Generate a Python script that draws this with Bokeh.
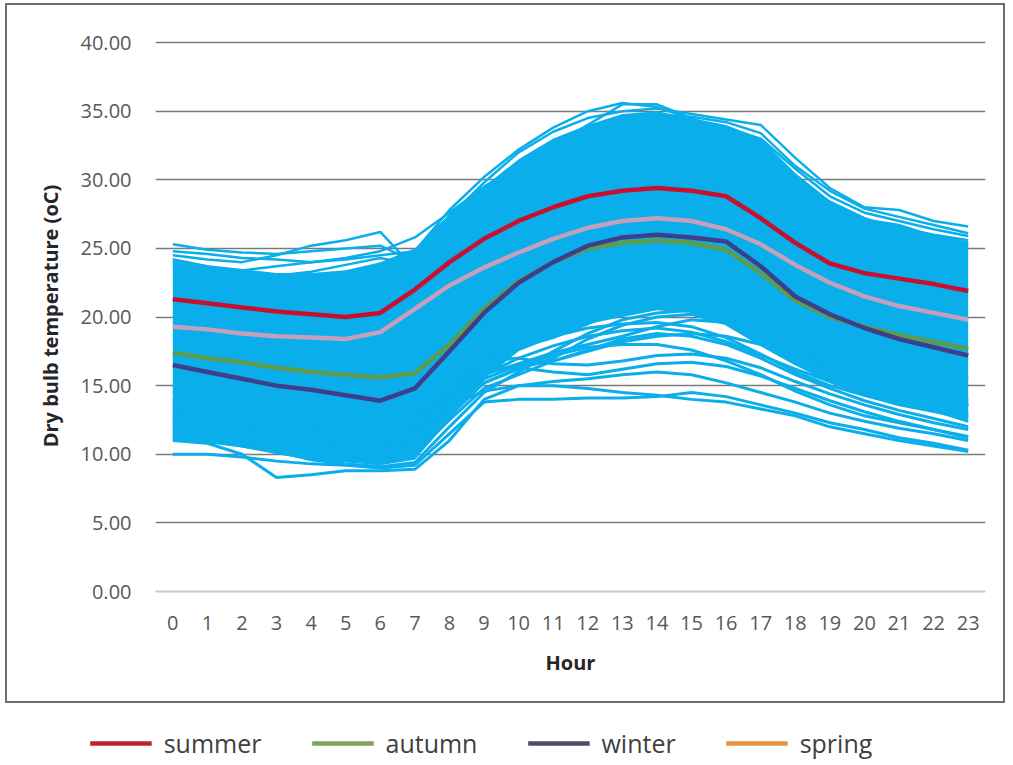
from bokeh.plotting import figure
from bokeh.models import FixedTicker, NumeralTickFormatter, Legend, LegendItem, Range1d
from bokeh.layouts import column, row
from bokeh.embed import file_html
from bokeh.resources import INLINE

# ---------------- data ----------------
hours = list(range(24))
y_ticks = [0, 5, 10, 15, 20, 25, 30, 35, 40]
grid_ticks = [5, 10, 15, 20, 25, 30, 35, 40]

summer = [21.3, 21.0, 20.7, 20.4, 20.2, 20.0, 20.3, 22.0, 24.0, 25.7, 27.0, 28.0,
          28.8, 29.2, 29.4, 29.2, 28.8, 27.2, 25.4, 23.9, 23.2, 22.8, 22.4, 21.9]
spring = [19.3, 19.1, 18.8, 18.6, 18.5, 18.4, 18.9, 20.6, 22.3, 23.6, 24.7, 25.7,
          26.5, 27.0, 27.2, 27.0, 26.4, 25.3, 23.8, 22.5, 21.5, 20.8, 20.3, 19.8]
autumn = [17.4, 17.0, 16.7, 16.3, 16.0, 15.8, 15.6, 15.9, 18.0, 20.6, 22.6, 24.0,
          25.0, 25.4, 25.6, 25.4, 24.9, 23.2, 21.2, 20.0, 19.3, 18.7, 18.2, 17.7]
winter = [16.5, 16.0, 15.5, 15.0, 14.7, 14.3, 13.9, 14.8, 17.5, 20.3, 22.5, 24.0,
          25.2, 25.8, 26.0, 25.8, 25.5, 23.7, 21.5, 20.2, 19.2, 18.4, 17.8, 17.2]

# dense core of the daily profiles
band_upper = [24.3, 23.8, 23.5, 23.2, 23.2, 23.4, 24.0, 25.0, 27.5, 29.5, 31.5, 33.0,
              34.0, 34.8, 35.0, 34.5, 34.0, 33.0, 30.5, 28.5, 27.2, 26.8, 26.0, 25.5]
band_lower = [11.0, 10.8, 10.5, 10.0, 9.6, 9.4, 9.2, 9.6, 12.5, 15.5, 17.5, 18.5,
              19.5, 20.0, 20.5, 20.3, 19.5, 18.0, 16.5, 15.2, 14.2, 13.5, 13.0, 12.5]

# individual hot days (upper edge of the bundle)
hot_days = [
    [25.3, 24.9, 24.7, 24.6, 24.8, 25.0, 25.2, 24.0, 26.0, 28.5, 30.5, 32.5, 34.0, 35.5, 35.5, 34.5, 33.5, 32.0, 29.8, 28.0, 27.0, 26.5, 26.0, 25.6],
    [24.5, 24.2, 24.0, 24.5, 25.2, 25.6, 26.2, 23.5, 27.3, 29.8, 32.0, 33.5, 34.5, 35.0, 35.2, 34.8, 34.4, 34.0, 31.6, 29.4, 28.0, 27.8, 27.0, 26.6],
    [24.0, 23.6, 23.4, 23.7, 24.0, 24.3, 24.8, 25.8, 27.6, 29.5, 31.0, 32.5, 33.4, 34.2, 34.6, 34.6, 34.2, 33.4, 31.0, 29.2, 27.9, 27.3, 26.7, 26.1],
    [23.8, 23.5, 23.2, 23.0, 23.3, 23.8, 24.3, 23.8, 26.5, 28.8, 30.6, 31.8, 32.8, 33.6, 34.0, 33.9, 33.2, 32.0, 30.0, 28.4, 27.2, 26.4, 25.8, 25.2],
    [24.8, 24.6, 24.3, 24.2, 24.0, 24.2, 24.5, 24.8, 27.8, 30.2, 32.2, 33.8, 35.0, 35.6, 35.3, 34.4, 33.8, 33.0, 30.8, 28.8, 27.6, 27.0, 26.4, 25.9],
]
# individual cool days (lower edge of the bundle)
cool_days = [
    [10.0, 10.0, 9.8, 9.5, 9.3, 9.2, 9.0, 9.2, 11.5, 13.8, 14.0, 14.0, 14.1, 14.1, 14.2, 14.5, 14.2, 13.6, 13.0, 12.3, 11.8, 11.2, 10.8, 10.3],
    [11.0, 10.8, 10.0, 8.3, 8.5, 8.8, 8.8, 8.9, 11.0, 14.0, 15.0, 15.0, 14.8, 14.5, 14.3, 14.0, 13.8, 13.3, 12.8, 12.0, 11.5, 11.0, 10.6, 10.2],
    [12.0, 11.7, 11.3, 10.8, 10.4, 10.0, 9.8, 10.2, 13.0, 15.5, 16.5, 17.2, 17.8, 18.0, 18.0, 17.6, 16.8, 15.8, 14.6, 13.6, 12.8, 12.3, 11.8, 11.3],
    [12.5, 12.2, 11.8, 11.3, 11.0, 10.6, 10.4, 10.8, 13.8, 16.5, 17.8, 18.6, 19.2, 19.5, 19.6, 19.3, 18.5, 17.3, 16.0, 15.0, 14.3, 13.7, 13.2, 12.7],
    [11.5, 11.2, 10.8, 10.5, 10.2, 10.0, 9.7, 10.0, 12.5, 14.8, 15.8, 16.8, 17.6, 18.4, 18.8, 18.6, 18.0, 17.0, 15.8, 14.8, 13.9, 13.2, 12.6, 12.0],
    [13.5, 13.2, 12.9, 12.6, 12.3, 12.0, 11.8, 12.0, 14.5, 16.8, 18.5, 19.8, 20.7, 21.2, 21.3, 21.0, 20.3, 19.2, 17.8, 16.6, 15.6, 14.9, 14.2, 13.6],
    [14.0, 13.6, 13.2, 12.9, 12.6, 12.2, 12.0, 12.6, 15.0, 17.0, 17.8, 18.5, 19.5, 20.5, 21.0, 21.0, 20.6, 19.8, 18.5, 17.3, 16.3, 15.4, 14.6, 13.9],
    [12.8, 12.4, 12.0, 11.6, 11.2, 10.8, 10.5, 10.8, 13.2, 15.2, 16.2, 17.0, 18.4, 19.4, 20.0, 20.2, 19.5, 18.0, 16.6, 15.4, 14.6, 14.0, 13.5, 13.0],
    [14.5, 14.2, 13.8, 13.4, 13.0, 12.7, 12.4, 12.9, 15.3, 17.6, 19.2, 20.3, 21.0, 21.6, 21.8, 21.6, 21.0, 20.0, 18.8, 17.8, 17.0, 16.3, 15.6, 15.0],
    [13.0, 12.8, 12.5, 12.2, 12.0, 11.8, 11.6, 12.0, 13.5, 14.6, 15.0, 15.3, 15.5, 15.8, 16.0, 15.8, 15.2, 14.5, 13.8, 13.0, 12.4, 11.9, 11.5, 11.0],
    [13.8, 13.5, 13.2, 12.8, 12.5, 12.2, 12.0, 12.5, 14.8, 16.0, 16.4, 16.8, 17.5, 18.2, 18.6, 18.8, 18.6, 18.0, 17.0, 16.0, 15.2, 14.5, 14.0, 13.5],
    [12.2, 12.0, 11.7, 11.4, 11.1, 10.9, 10.7, 11.2, 14.2, 16.8, 17.0, 16.6, 16.5, 16.8, 17.2, 17.3, 17.0, 16.3, 15.3, 14.4, 13.6, 12.9, 12.3, 11.8],
    [15.0, 14.6, 14.2, 13.8, 13.5, 13.2, 13.0, 13.6, 16.0, 18.2, 19.6, 20.5, 21.2, 21.8, 22.0, 21.9, 21.4, 20.6, 19.5, 18.4, 17.5, 16.8, 16.1, 15.5],
    [11.8, 11.5, 11.0, 10.2, 9.6, 9.3, 9.1, 9.4, 12.0, 14.5, 16.0, 17.5, 18.8, 19.8, 20.3, 20.5, 20.2, 19.2, 17.5, 16.2, 15.0, 14.0, 13.2, 12.4],
    [12.6, 12.3, 12.0, 11.6, 11.2, 10.9, 10.6, 11.0, 13.6, 15.8, 17.0, 17.9, 18.6, 19.0, 19.2, 18.9, 18.2, 17.2, 16.2, 15.3, 14.5, 13.8, 13.3, 12.8],
    [13.3, 13.0, 12.6, 12.2, 11.8, 11.5, 11.3, 11.7, 14.0, 15.8, 16.6, 17.4, 18.0, 18.6, 19.3, 19.8, 19.6, 18.6, 17.3, 16.2, 15.4, 14.7, 14.1, 13.6],
    [11.2, 11.0, 10.6, 10.2, 9.9, 9.7, 9.5, 9.9, 12.8, 15.2, 16.3, 16.0, 15.8, 16.2, 16.6, 16.7, 16.4, 15.7, 14.8, 13.9, 13.1, 12.4, 11.8, 11.2],
]

season_names = ["summer", "autumn", "winter", "spring"]
legend_colors = ["#C0202D", "#7FA25C", "#4E4B6C", "#E8913F"]

# ---------------- styles ----------------
BLUE = "#0AAEEA"
FONT = "Open Sans"
TXT = "#595959"

p = figure(width=1000, height=700, x_range=Range1d(-0.5, 23.5), y_range=Range1d(0, 40.15),
           output_backend="svg", toolbar_location=None,
           min_border_left=148, min_border_right=22, min_border_top=35, min_border_bottom=114)
p.margin = (3, 0, 0, 5)
p.styles = {"border": "2px solid #6e6e6e"}
p.outline_line_color = None
p.background_fill_color = "white"
p.border_fill_color = "white"

p.xgrid.visible = False
p.ygrid.ticker = FixedTicker(ticks=grid_ticks)
p.ygrid.grid_line_color = "#7a7a7a"
p.ygrid.grid_line_width = 1.6

p.xaxis.ticker = FixedTicker(ticks=hours)
p.xaxis.axis_line_color = "#c8c8c8"
p.xaxis.axis_line_width = 2
p.xaxis.major_tick_line_color = None
p.xaxis.minor_tick_line_color = None
p.xaxis.major_label_standoff = 18
p.xaxis.axis_label = "Hour"
p.xaxis.axis_label_standoff = 16

p.yaxis.ticker = FixedTicker(ticks=y_ticks)
p.yaxis.formatter = NumeralTickFormatter(format="0.00")
p.yaxis.axis_line_color = None
p.yaxis.major_tick_line_color = None
p.yaxis.minor_tick_line_color = None
p.yaxis.major_label_standoff = 18
p.yaxis.axis_label = "Dry bulb temperature (oC)"
p.yaxis.axis_label_standoff = 14

for ax in (p.xaxis[0], p.yaxis[0]):
    ax.major_label_text_font = FONT
    ax.major_label_text_font_size = "20px"
    ax.major_label_text_color = TXT
    ax.axis_label_text_font = FONT
    ax.axis_label_text_font_size = "20px"
    ax.axis_label_text_font_style = "bold"
    ax.axis_label_text_color = "#262626"

# bundle of daily profiles
p.varea(x=hours, y1=band_lower, y2=band_upper, fill_color=BLUE)
p.multi_line(xs=[hours] * len(hot_days), ys=hot_days, line_color=BLUE, line_width=2.5)
p.multi_line(xs=[hours] * len(cool_days), ys=cool_days, line_color=BLUE, line_width=3)

# seasonal means
p.line(hours, summer, line_color="#C8102E", line_width=4.5)
p.line(hours, spring, line_color="#C5A0BC", line_width=4.5)
p.line(hours, autumn, line_color="#5F9B4C", line_width=4.5)
p.line(hours, winter, line_color="#3E3F8C", line_width=4.5)

# ---------------- legend (below the boxed chart) ----------------
p2 = figure(width=962, height=80, x_range=(0, 1), y_range=(0, 1),
            output_backend="svg", toolbar_location=None,
            min_border_left=0, min_border_right=0, min_border_top=0, min_border_bottom=0)
p2.axis.visible = False
p2.grid.visible = False
p2.outline_line_color = None

items = []
for name, col in zip(season_names, legend_colors):
    r = p2.line(x=[5, 6], y=[5, 5], line_color=col, line_width=4.5)
    items.append(LegendItem(label=name, renderers=[r]))

legend = Legend(items=items, orientation="horizontal", location="center",
                border_line_color=None, background_fill_alpha=0,
                label_text_font=FONT, label_text_font_size="25px", label_text_color="#404040",
                glyph_width=62, glyph_height=20, label_standoff=12, spacing=50,
                padding=0, margin=0)
p2.add_layout(legend, "center")

layout = column(p, row(p2))
open("out.html", "w").write(file_html(layout, INLINE))
